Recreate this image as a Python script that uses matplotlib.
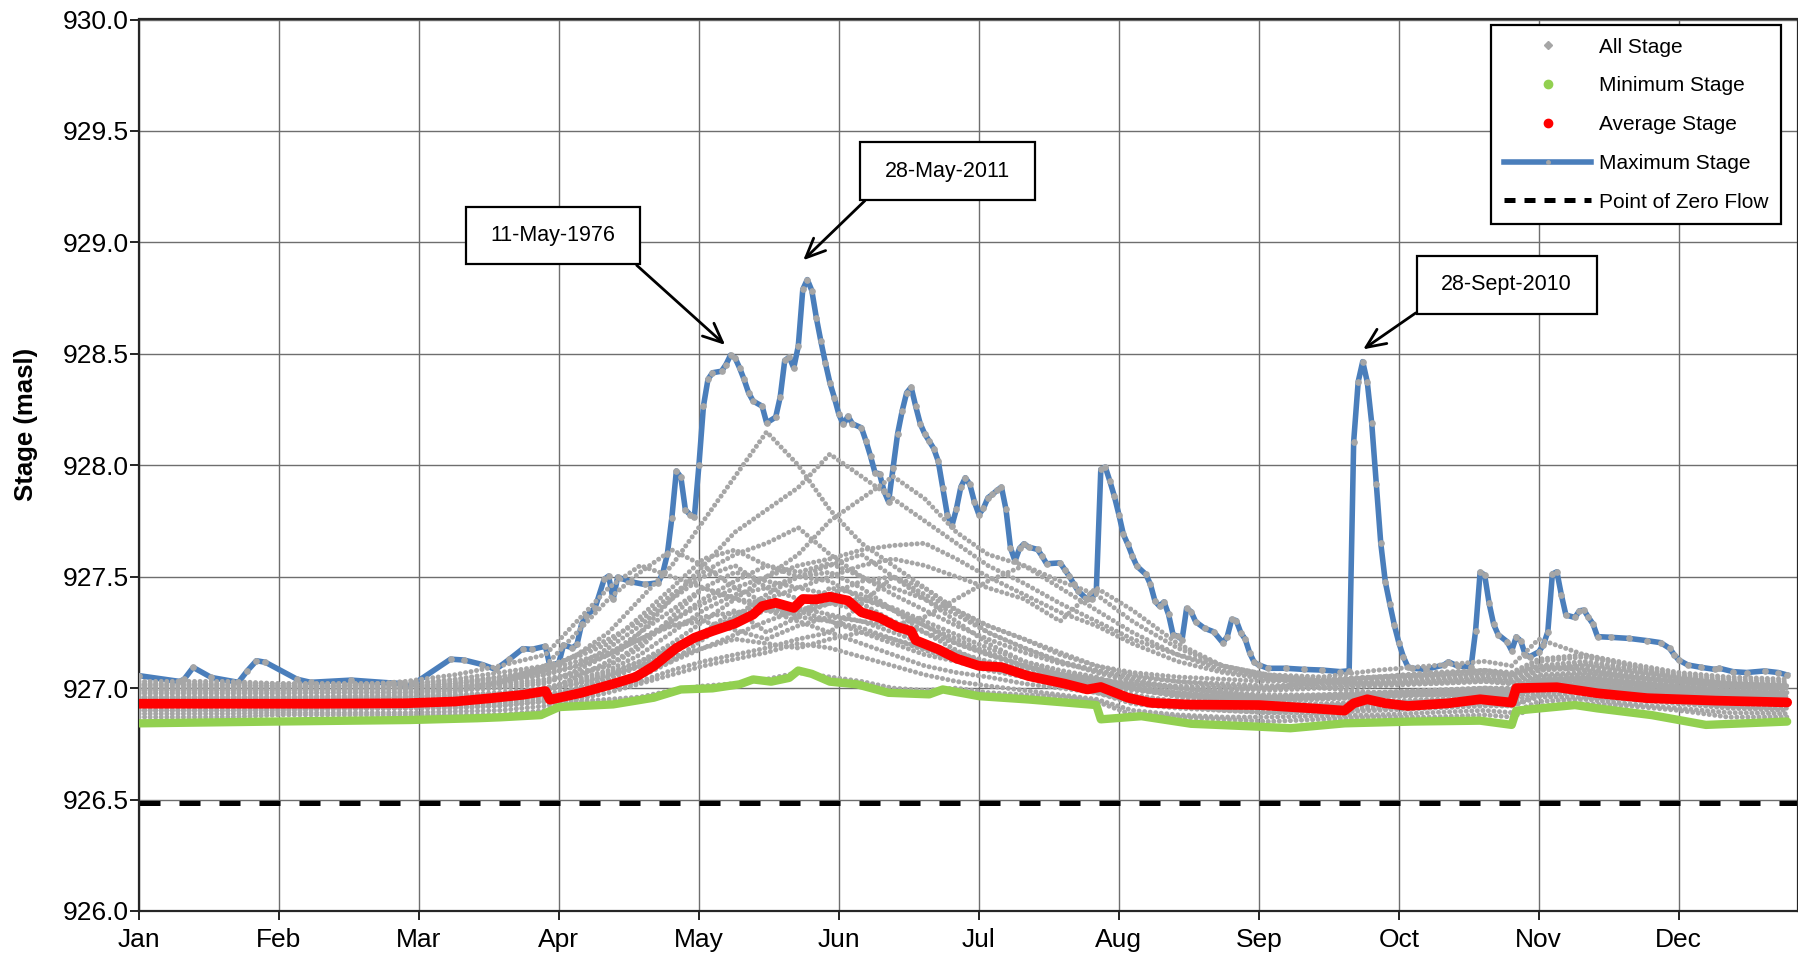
import numpy as np
import matplotlib
matplotlib.use('Agg')
import matplotlib.pyplot as plt
from matplotlib.lines import Line2D
from matplotlib.path import Path

plt.rcParams['font.family'] = ['Liberation Sans', 'DejaVu Sans']

Months = ['Jan', 'Feb', 'Mar', 'Apr', 'May', 'Jun', 'Jul', 'Aug', 'Sep', 'Oct', 'Nov', 'Dec']
MonthDays = [0, 31, 62, 93, 124, 155, 186, 217, 248, 279, 310, 341]

# maximum stage for each day of year
MaxDays = [0, 9, 10, 12, 16, 22, 24, 26, 28, 35, 38, 47, 56, 58, 59, 61, 69, 72, 76, 79,
           82, 85, 87, 90, 91, 93, 94, 96, 97, 98, 99, 101, 103, 104, 105, 106, 109, 112, 115, 116,
           117, 118, 119, 120, 121, 122, 123, 124, 125, 126, 127, 129, 130, 131, 132, 133, 134, 135, 136, 138,
           139, 141, 142, 143, 144, 145, 146, 147, 148, 149, 150, 151, 152, 153, 154, 155, 156, 157, 158, 160,
           161, 162, 163, 164, 165, 166, 167, 168, 169, 170, 171, 172, 173, 174, 175, 176, 177, 178, 179, 180,
           181, 182, 183, 184, 185, 186, 187, 188, 189, 190, 191, 192, 193, 194, 195, 196, 197, 199, 200, 201,
           204, 205, 206, 207, 208, 210, 211, 212, 213, 214, 215, 216, 217, 218, 219, 220, 221, 223, 224, 225,
           226, 227, 228, 229, 230, 231, 232, 233, 234, 236, 238, 240, 241, 242, 243, 244, 245, 246, 247, 248,
           250, 254, 258, 262, 266, 268, 269, 270, 271, 272, 273, 274, 275, 276, 277, 278, 279, 280, 281, 282,
           285, 289, 290, 292, 295, 296, 297, 298, 299, 300, 301, 303, 304, 305, 306, 307, 308, 310, 311, 312,
           313, 314, 315, 316, 318, 319, 320, 321, 322, 323, 326, 330, 334, 337, 339, 340, 341, 343, 346, 349,
           350, 353, 356, 360, 363, 365]
MaxStage = [927.056, 927.030, 927.040, 927.093, 927.048, 927.026, 927.078, 927.123, 927.116, 927.040,
            927.026, 927.036, 927.023, 927.021, 927.006, 927.021, 927.130, 927.126, 927.106, 927.084,
            927.129, 927.177, 927.174, 927.188, 927.099, 927.114, 927.193, 927.181, 927.196, 927.286,
            927.323, 927.360, 927.488, 927.503, 927.398, 927.498, 927.477, 927.465, 927.473, 927.517,
            927.600, 927.764, 927.974, 927.947, 927.800, 927.779, 927.770, 928.000, 928.265, 928.385,
            928.415, 928.422, 928.452, 928.494, 928.482, 928.437, 928.385, 928.325, 928.288, 928.265,
            928.190, 928.216, 928.306, 928.470, 928.485, 928.437, 928.534, 928.789, 928.833, 928.784,
            928.662, 928.557, 928.460, 928.370, 928.303, 928.228, 928.183, 928.220, 928.186, 928.168,
            928.108, 928.041, 927.966, 927.962, 927.884, 927.836, 927.989, 928.141, 928.243, 928.325,
            928.350, 928.265, 928.187, 928.141, 928.108, 928.075, 928.018, 927.899, 927.779, 927.727,
            927.802, 927.902, 927.944, 927.914, 927.836, 927.779, 927.806, 927.854, 927.869, 927.887,
            927.902, 927.802, 927.630, 927.570, 927.627, 927.648, 927.633, 927.622, 927.592, 927.558,
            927.562, 927.532, 927.503, 927.468, 927.435, 927.398, 927.402, 927.435, 927.981, 927.992,
            927.929, 927.861, 927.779, 927.690, 927.645, 927.592, 927.547, 927.510, 927.465, 927.390,
            927.368, 927.387, 927.331, 927.240, 927.233, 927.218, 927.358, 927.343, 927.298, 927.268,
            927.253, 927.204, 927.231, 927.309, 927.303, 927.249, 927.219, 927.156, 927.115, 927.104,
            927.089, 927.089, 927.084, 927.081, 927.074, 927.078, 928.106, 928.375, 928.465, 928.375,
            928.188, 927.916, 927.650, 927.478, 927.378, 927.283, 927.204, 927.141, 927.096, 927.089,
            927.084, 927.104, 927.118, 927.099, 927.096, 927.258, 927.520, 927.508, 927.380, 927.286,
            927.240, 927.208, 927.168, 927.230, 927.212, 927.150, 927.141, 927.163, 927.193, 927.253,
            927.512, 927.522, 927.418, 927.328, 927.317, 927.347, 927.350, 927.317, 927.288, 927.231,
            927.228, 927.223, 927.213, 927.204, 927.178, 927.149, 927.126, 927.104, 927.093, 927.084,
            927.089, 927.074, 927.070, 927.077, 927.070, 927.059]

AvgDays = [0, 20, 40, 59, 70, 78, 85, 90, 91, 98, 105, 110, 114, 119, 123, 127, 132, 136, 138, 141,
           145, 147, 150, 153, 157, 160, 164, 168, 171, 172, 177, 181, 186, 191, 197, 205, 210, 213, 219, 224,
           233, 248, 260, 267, 269, 272, 276, 281, 290, 297, 304, 305, 314, 323, 334, 349, 365]
AvgStage = [926.930, 926.930, 926.930, 926.932, 926.940, 926.955, 926.970, 926.987, 926.948, 926.979,
            927.019, 927.050, 927.099, 927.180, 927.226, 927.256, 927.290, 927.330, 927.368, 927.383,
            927.360, 927.400, 927.398, 927.410, 927.393, 927.340, 927.316, 927.274, 927.256, 927.215,
            927.174, 927.133, 927.100, 927.094, 927.054, 927.020, 926.994, 927.005, 926.957, 926.934,
            926.926, 926.924, 926.909, 926.899, 926.932, 926.950, 926.932, 926.920, 926.932, 926.950,
            926.935, 927.000, 927.004, 926.977, 926.955, 926.944, 926.936]

MinDays = [0, 30, 60, 75, 80, 89, 93, 105, 114, 120, 127, 133, 136, 140, 144, 146, 149, 153, 159, 166,
           175, 178, 186, 197, 212, 213, 222, 233, 248, 255, 267, 282, 297, 304, 305, 318, 323, 335, 347, 365]
MinStage = [926.842, 926.850, 926.857, 926.865, 926.869, 926.879, 926.915, 926.927, 926.957, 926.994,
            926.999, 927.017, 927.039, 927.029, 927.046, 927.079, 927.064, 927.029, 927.017, 926.979,
            926.972, 926.994, 926.964, 926.949, 926.924, 926.860, 926.874, 926.840, 926.827, 926.820,
            926.842, 926.850, 926.854, 926.835, 926.899, 926.924, 926.909, 926.879, 926.835, 926.850]

# individual years (all stage record), sampled through the year
SampleDays = [0, 10, 20, 31, 45, 59, 70, 80, 90, 97, 104, 111, 118, 125, 132, 139, 146, 153, 160, 167,
              174, 181, 188, 196, 204, 212, 220, 230, 240, 250, 262, 274, 286, 298, 304, 310, 320, 330, 341, 352, 365]
YearA = [926.87, 926.87, 926.87, 926.88, 926.88, 926.88, 926.88, 926.88, 926.90, 926.94, 926.95, 926.96, 926.99, 927.01,
         927.02, 927.04, 927.07, 927.05, 927.03, 927.00, 926.99, 927.00, 926.98, 926.97, 926.96, 926.94, 926.88, 926.87,
         926.86, 926.85, 926.86, 926.87, 926.87, 926.88, 926.87, 926.92, 926.93, 926.92, 926.90, 926.87, 926.87]
YearB = [926.90, 926.90, 926.90, 926.90, 926.91, 926.91, 926.91, 926.92, 926.94, 926.97, 927.00, 927.03, 927.08, 927.12,
         927.15, 927.18, 927.22, 927.25, 927.20, 927.15, 927.10, 927.07, 927.05, 927.02, 927.00, 926.98, 926.93, 926.91,
         926.90, 926.89, 926.89, 926.90, 926.91, 926.92, 926.92, 926.96, 926.96, 926.95, 926.93, 926.91, 926.90]
YearC = [926.93, 926.93, 926.93, 926.93, 926.93, 926.93, 926.94, 926.95, 926.97, 927.00, 927.04, 927.10, 927.18, 927.25,
         927.30, 927.35, 927.33, 927.38, 927.35, 927.28, 927.20, 927.15, 927.10, 927.06, 927.03, 927.01, 926.97, 926.94,
         926.92, 926.91, 926.92, 926.93, 926.94, 926.95, 926.95, 927.00, 927.00, 926.98, 926.96, 926.94, 926.93]
YearD = [926.96, 926.96, 926.96, 926.96, 926.96, 926.96, 926.97, 926.98, 927.00, 927.04, 927.08, 927.15, 927.25, 927.35,
         927.42, 927.45, 927.50, 927.48, 927.40, 927.35, 927.28, 927.22, 927.16, 927.10, 927.06, 927.03, 927.00, 926.97,
         926.95, 926.94, 926.95, 926.96, 926.97, 926.98, 926.97, 927.02, 927.03, 927.01, 926.99, 926.97, 926.96]
YearE = [926.99, 926.99, 926.99, 926.99, 926.99, 926.99, 927.00, 927.01, 927.03, 927.06, 927.10, 927.20, 927.30, 927.40,
         927.48, 927.55, 927.52, 927.56, 927.50, 927.45, 927.40, 927.33, 927.25, 927.18, 927.12, 927.07, 927.03, 927.00,
         926.98, 926.97, 926.97, 926.98, 926.99, 927.00, 927.00, 927.05, 927.06, 927.04, 927.02, 927.00, 926.99]
YearF = [927.01, 927.01, 927.01, 927.01, 927.01, 927.01, 927.02, 927.04, 927.07, 927.10, 927.15, 927.25, 927.35, 927.45,
         927.52, 927.48, 927.45, 927.42, 927.38, 927.30, 927.25, 927.20, 927.15, 927.10, 927.06, 927.04, 927.02, 927.01,
         927.00, 926.99, 927.00, 927.01, 927.02, 927.03, 927.02, 927.08, 927.10, 927.07, 927.04, 927.02, 927.01]
YearG = [927.03, 927.03, 927.03, 927.02, 927.02, 927.02, 927.04, 927.07, 927.10, 927.14, 927.20, 927.32, 927.45, 927.58,
         927.62, 927.55, 927.50, 927.55, 927.60, 927.50, 927.42, 927.35, 927.28, 927.22, 927.15, 927.10, 927.07, 927.05,
         927.04, 927.03, 927.04, 927.05, 927.06, 927.07, 927.06, 927.12, 927.14, 927.10, 927.06, 927.04, 927.03]
YearH = [926.95, 926.95, 926.95, 926.95, 926.95, 926.96, 926.98, 927.02, 927.08, 927.15, 927.25, 927.40, 927.55, 927.75,
         927.95, 928.15, 928.00, 927.80, 927.65, 927.55, 927.45, 927.35, 927.25, 927.18, 927.12, 927.08, 927.04, 927.00,
         926.98, 926.96, 926.96, 926.97, 926.98, 926.99, 926.98, 927.03, 927.04, 927.02, 927.00, 926.97, 926.96]
YearI = [926.98, 926.98, 926.98, 926.98, 926.98, 926.98, 927.00, 927.03, 927.06, 927.10, 927.18, 927.28, 927.40, 927.55,
         927.70, 927.80, 927.90, 928.05, 927.95, 927.85, 927.75, 927.65, 927.55, 927.47, 927.38, 927.30, 927.22, 927.15,
         927.10, 927.06, 927.03, 927.02, 927.02, 927.03, 927.02, 927.06, 927.07, 927.05, 927.03, 927.01, 927.00]
YearJ = [926.92, 926.92, 926.92, 926.92, 926.92, 926.93, 926.94, 926.96, 926.99, 927.02, 927.06, 927.12, 927.20, 927.30,
         927.40, 927.50, 927.60, 927.75, 927.85, 927.95, 927.85, 927.70, 927.60, 927.55, 927.48, 927.42, 927.30, 927.18,
         927.10, 927.05, 927.00, 926.98, 926.97, 926.97, 926.96, 927.00, 927.02, 927.00, 926.98, 926.95, 926.94]
YearK = [927.00, 927.00, 927.00, 927.00, 927.01, 927.03, 927.06, 927.10, 927.15, 927.30, 927.45, 927.55, 927.50, 927.45,
         927.40, 927.38, 927.35, 927.30, 927.25, 927.20, 927.15, 927.12, 927.08, 927.05, 927.03, 927.01, 926.99, 926.97,
         926.96, 926.95, 926.96, 926.97, 926.98, 927.00, 926.99, 927.04, 927.05, 927.03, 927.01, 926.99, 926.98]
YearL = [926.94, 926.94, 926.94, 926.94, 926.94, 926.94, 926.95, 926.97, 927.00, 927.03, 927.07, 927.12, 927.18, 927.25,
         927.32, 927.40, 927.45, 927.50, 927.55, 927.58, 927.55, 927.50, 927.45, 927.40, 927.30, 927.45, 927.35, 927.20,
         927.10, 927.06, 927.05, 927.08, 927.10, 927.12, 927.10, 927.22, 927.15, 927.10, 927.05, 927.02, 927.01]
YearM = [926.885, 926.885, 926.885, 926.89, 926.89, 926.89, 926.895, 926.90, 926.92, 926.95, 926.98, 927.02, 927.06, 927.10,
         927.13, 927.16, 927.20, 927.18, 927.14, 927.10, 927.06, 927.03, 927.01, 926.99, 926.97, 926.95, 926.90, 926.88,
         926.87, 926.87, 926.875, 926.88, 926.89, 926.90, 926.89, 926.94, 926.95, 926.93, 926.91, 926.89, 926.885]
YearN = [926.915, 926.915, 926.915, 926.915, 926.92, 926.92, 926.925, 926.93, 926.95, 926.98, 927.02, 927.07, 927.12, 927.18,
         927.24, 927.30, 927.35, 927.38, 927.40, 927.36, 927.30, 927.24, 927.18, 927.12, 927.08, 927.05, 927.00, 926.96,
         926.94, 926.93, 926.93, 926.94, 926.95, 926.96, 926.96, 927.01, 927.01, 926.99, 926.97, 926.95, 926.94]
YearO = [926.945, 926.945, 926.945, 926.945, 926.95, 926.95, 926.955, 926.97, 926.99, 927.05, 927.12, 927.25, 927.40, 927.50,
         927.55, 927.45, 927.40, 927.42, 927.48, 927.50, 927.40, 927.30, 927.20, 927.12, 927.07, 927.04, 927.01, 926.98,
         926.96, 926.955, 926.96, 926.97, 926.98, 926.99, 926.985, 927.03, 927.04, 927.02, 927.00, 926.98, 926.97]
YearP = [926.975, 926.975, 926.975, 926.975, 926.98, 926.98, 926.99, 927.00, 927.02, 927.08, 927.15, 927.22, 927.28, 927.30,
         927.26, 927.22, 927.28, 927.32, 927.30, 927.25, 927.20, 927.16, 927.12, 927.09, 927.06, 927.04, 927.02, 927.00,
         926.99, 927.00, 927.03, 927.05, 927.07, 927.08, 927.06, 927.10, 927.08, 927.05, 927.02, 927.00, 926.99]
YearQ = [927.015, 927.015, 927.015, 927.01, 927.01, 927.01, 927.02, 927.05, 927.09, 927.15, 927.22, 927.30, 927.42, 927.52,
         927.60, 927.65, 927.72, 927.60, 927.50, 927.42, 927.35, 927.28, 927.22, 927.16, 927.11, 927.08, 927.05, 927.03,
         927.02, 927.01, 927.02, 927.03, 927.04, 927.05, 927.04, 927.09, 927.11, 927.08, 927.05, 927.03, 927.02]
YearR = [926.90, 926.90, 926.90, 926.905, 926.905, 926.91, 926.915, 926.92, 926.94, 926.97, 927.00, 927.05, 927.12, 927.22,
         927.32, 927.42, 927.50, 927.52, 927.45, 927.35, 927.25, 927.17, 927.10, 927.05, 927.01, 926.98, 926.94, 926.92,
         926.90, 926.89, 926.90, 926.91, 926.92, 926.93, 926.92, 926.97, 926.98, 926.96, 926.94, 926.92, 926.91]
YearS = [926.96, 926.96, 926.96, 926.96, 926.965, 926.97, 926.99, 927.03, 927.10, 927.25, 927.40, 927.52, 927.62, 927.55,
         927.45, 927.38, 927.32, 927.30, 927.27, 927.22, 927.17, 927.13, 927.09, 927.06, 927.04, 927.02, 927.00, 926.98,
         926.97, 926.96, 926.97, 926.98, 926.99, 927.00, 926.995, 927.04, 927.05, 927.03, 927.01, 926.99, 926.98]
YearT = [927.00, 927.00, 927.00, 927.00, 927.00, 927.00, 927.01, 927.03, 927.06, 927.10, 927.15, 927.22, 927.30, 927.38,
         927.45, 927.50, 927.55, 927.58, 927.62, 927.64, 927.65, 927.58, 927.50, 927.42, 927.34, 927.28, 927.20, 927.12,
         927.07, 927.04, 927.03, 927.04, 927.05, 927.06, 927.05, 927.10, 927.12, 927.09, 927.05, 927.02, 927.01]
YearU = [926.925, 926.925, 926.925, 926.925, 926.93, 926.93, 926.935, 926.94, 926.96, 927.00, 927.05, 927.10, 927.15, 927.25,
         927.35, 927.25, 927.32, 927.45, 927.42, 927.35, 927.28, 927.20, 927.15, 927.10, 927.05, 927.00, 926.96, 926.93,
         926.92, 926.91, 926.915, 926.92, 926.93, 926.94, 926.94, 926.98, 926.99, 926.97, 926.95, 926.93, 926.925]
YearV = [926.99, 926.99, 926.99, 926.99, 926.995, 927.00, 927.01, 927.02, 927.04, 927.07, 927.10, 927.18, 927.32, 927.45,
         927.40, 927.35, 927.30, 927.25, 927.38, 927.50, 927.45, 927.35, 927.28, 927.22, 927.16, 927.10, 927.06, 927.03,
         927.01, 927.00, 927.01, 927.02, 927.03, 927.04, 927.03, 927.08, 927.09, 927.06, 927.03, 927.01, 927.00]
YearW = [926.955, 926.955, 926.955, 926.955, 926.955, 926.96, 926.965, 926.975, 926.99, 927.02, 927.06, 927.10, 927.14, 927.18,
         927.22, 927.20, 927.18, 927.22, 927.25, 927.22, 927.18, 927.14, 927.10, 927.07, 927.05, 927.03, 927.00, 926.97,
         926.955, 926.95, 926.955, 926.96, 926.97, 926.98, 926.975, 927.02, 927.02, 927.00, 926.98, 926.96, 926.955]
YearX = [927.02, 927.02, 927.02, 927.02, 927.02, 927.02, 927.03, 927.05, 927.08, 927.12, 927.16, 927.22, 927.28, 927.32,
         927.34, 927.35, 927.36, 927.33, 927.30, 927.28, 927.32, 927.40, 927.48, 927.55, 927.45, 927.35, 927.25, 927.15,
         927.08, 927.05, 927.04, 927.05, 927.06, 927.08, 927.07, 927.13, 927.15, 927.11, 927.07, 927.05, 927.04]
AllYears = [YearA, YearB, YearC, YearD, YearE, YearF, YearG, YearH, YearI, YearJ, YearK, YearL,
            YearM, YearN, YearO, YearP, YearQ, YearR, YearS, YearT, YearU, YearV, YearW, YearX]

ZeroFlow = 926.485

Gray = '#A6A6A6'
Blue = '#4A7EBB'
Green = '#92D050'
Red = '#FF0000'


def WideBox(x0, y0, width, height, mutation_size):
    #rectangle with more room left/right than top/bottom
    padx = 1.15 * mutation_size
    pady = 0.85 * mutation_size
    x0, y0 = x0 - padx, y0 - pady
    x1, y1 = x0 + width + 2 * padx, y0 + height + 2 * pady
    return Path([(x0, y0), (x1, y0), (x1, y1), (x0, y1), (x0, y0)], closed=True)


fig = plt.figure(figsize=(17.99, 9.59), dpi=100)
ax = fig.add_axes([139 / 1799, 48 / 959, 1659 / 1799, 891.5 / 959])

ax.axhline(ZeroFlow, color='black', lw=3.6, dashes=(4.2, 3.8), zorder=2)
ax.plot(MaxDays, MaxStage, color=Blue, lw=4.0, marker='o', ms=3.8, mfc=Gray, mec=Gray,
        solid_joinstyle='round', zorder=3)
for Year in AllYears:
    ax.plot(SampleDays, Year, color=Gray, lw=3.6, linestyle=(0, (0.01, 1.1)),
            dash_capstyle='round', zorder=4)
ax.plot(MinDays, MinStage, color=Green, lw=6.0, solid_capstyle='round', solid_joinstyle='round', zorder=5)
ax.plot(AvgDays, AvgStage, color=Red, lw=7.0, solid_capstyle='round', solid_joinstyle='round', zorder=6)

ax.set_xlim(0, 367.4)
ax.set_ylim(926, 930)
ax.set_xticks(MonthDays, Months)
ax.set_yticks(np.arange(926, 930.01, 0.5))
ax.yaxis.set_major_formatter(matplotlib.ticker.FormatStrFormatter('%.1f'))
ax.tick_params(axis='both', labelsize=19, length=6.3, width=1.2, direction='out')
ax.tick_params(axis='y', pad=1)
ax.tick_params(axis='x', pad=6)
ax.grid(True, color='#6E6E6E', lw=1.0)
ax.set_axisbelow(True)
for Side in ax.spines.values():
    Side.set_linewidth(1.6)
    Side.set_color('#262626')

ax.set_ylabel('Stage (masl)', fontsize=18.5, fontweight='bold')
ax.yaxis.set_label_coords(-0.061, 0.546)

BoxProps = dict(boxstyle=WideBox, fc='white', ec='black', lw=1.6)
ArrowStyle = '->,head_length=0.9,head_width=0.4'
ax.annotate('11-May-1976', xy=(129.8, 928.54), xytext=(91.7, 929.03), fontsize=15.5,
            ha='center', va='center', bbox=BoxProps, zorder=8,
            arrowprops=dict(arrowstyle=ArrowStyle, color='black', lw=2, relpos=(1, 0), shrinkA=0, shrinkB=0))
ax.annotate('28-May-2011', xy=(147.1, 928.92), xytext=(179.0, 929.32), fontsize=15.5,
            ha='center', va='center', bbox=BoxProps, zorder=8,
            arrowprops=dict(arrowstyle=ArrowStyle, color='black', lw=2, relpos=(0, 0), shrinkA=0, shrinkB=0))
ax.annotate('28-Sept-2010', xy=(271.1, 928.52), xytext=(302.9, 928.81), fontsize=15.5,
            ha='center', va='center', bbox=BoxProps, zorder=8,
            arrowprops=dict(arrowstyle=ArrowStyle, color='black', lw=2, relpos=(0, 0), shrinkA=0, shrinkB=0))

Handles = [Line2D([], [], ls='', marker='D', ms=4, color=Gray),
           Line2D([], [], ls='', marker='o', ms=6, color=Green),
           Line2D([], [], ls='', marker='o', ms=6, color=Red),
           Line2D([], [], color=Blue, lw=4.0, marker='o', ms=2.5, mfc=Gray, mec=Gray),
           Line2D([], [], color='black', lw=3.6, dashes=(2.2, 1.8))]
Labels = ['All Stage', 'Minimum Stage', 'Average Stage', 'Maximum Stage', 'Point of Zero Flow']
Leg = ax.legend(Handles, Labels, loc='upper right', bbox_to_anchor=(0.9895, 0.9938), borderaxespad=0,
                fontsize=15, handlelength=4.2, handletextpad=0.35, labelspacing=0.95, fancybox=False,
                framealpha=1, edgecolor='black', numpoints=1, borderpad=0.6)
Leg.get_frame().set_linewidth(1.6)
Leg.set_zorder(9)

plt.savefig('out.png', dpi=100)
